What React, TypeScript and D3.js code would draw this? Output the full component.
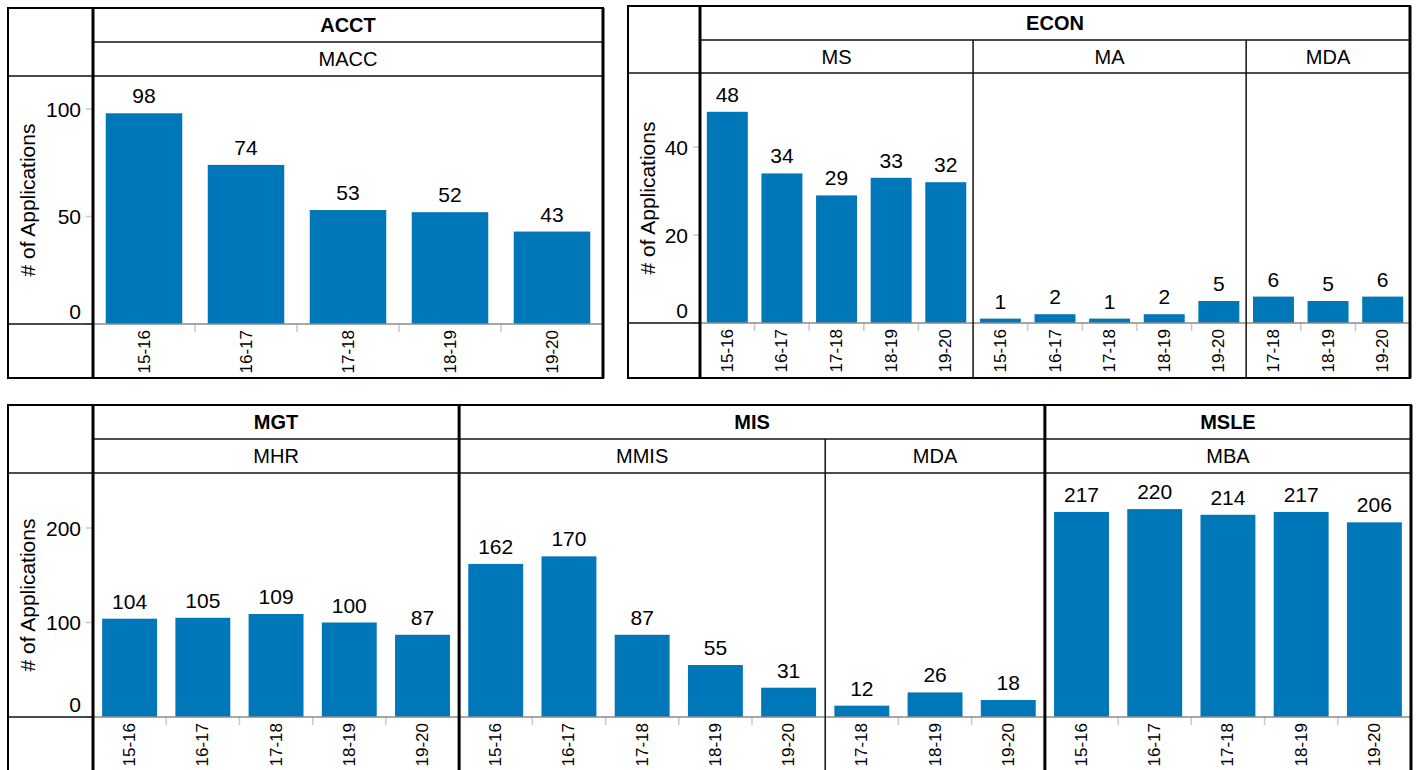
import React from "react";
import * as d3 from "d3";

// ---------- data ----------
const years = ["15-16", "16-17", "17-18", "18-19", "19-20"];
const mdaYears = ["17-18", "18-19", "19-20"];

const acctMacc = [98, 74, 53, 52, 43];
const econMs = [48, 34, 29, 33, 32];
const econMa = [1, 2, 1, 2, 5];
const econMda = [6, 5, 6];
const mgtMhr = [104, 105, 109, 100, 87];
const misMmis = [162, 170, 87, 55, 31];
const misMda = [12, 26, 18];
const msleMba = [217, 220, 214, 217, 206];

const ticksAcct = [0, 50, 100];
const ticksEcon = [0, 20, 40];
const ticksBottom = [0, 100, 200];

const axisTitle = "# of Applications";

type Sub = { name: string; cats: string[]; values: number[] };
type Group = { name: string; subs: Sub[] };

const acctGroups: Group[] = [
  { name: "ACCT", subs: [{ name: "MACC", cats: years, values: acctMacc }] },
];
const econGroups: Group[] = [
  {
    name: "ECON",
    subs: [
      { name: "MS", cats: years, values: econMs },
      { name: "MA", cats: years, values: econMa },
      { name: "MDA", cats: mdaYears, values: econMda },
    ],
  },
];
const bottomGroups: Group[] = [
  { name: "MGT", subs: [{ name: "MHR", cats: years, values: mgtMhr }] },
  {
    name: "MIS",
    subs: [
      { name: "MMIS", cats: years, values: misMmis },
      { name: "MDA", cats: mdaYears, values: misMda },
    ],
  },
  { name: "MSLE", subs: [{ name: "MBA", cats: years, values: msleMba }] },
];

const BAR = "#0077b8";
const FONT = "'Liberation Sans', Arial, sans-serif";

type Layout = {
  L: number; RH: number; R: number; T: number; H1: number; H2: number; base: number; B: number; yMax: number;
};

function Panel({ groups, ticks, lay }: { groups: Group[]; ticks: number[]; lay: Layout }) {
  const { L, RH, R, T, H1, H2, base, B, yMax } = lay;
  const keys: string[] = [];
  groups.forEach((g) => g.subs.forEach((s) => s.cats.forEach((c) => keys.push(`${g.name}|${s.name}|${c}`))));
  const x = d3.scaleBand<string>().domain(keys).range([RH, R]).paddingInner(0.25).paddingOuter(0.125);
  const y = d3.scaleLinear().domain([0, yMax]).range([base, H2]);
  const step = x.step();

  const bars: any[] = [];
  const labels: any[] = [];
  const xlabels: any[] = [];
  const tickMarks: any[] = [];
  const subLines: any[] = [];
  const groupLines: any[] = [];
  const headers: any[] = [];

  let idx = 0;
  groups.forEach((g, gi) => {
    const gStart = RH + idx * step;
    g.subs.forEach((s, si) => {
      const sStart = RH + idx * step;
      s.cats.forEach((c, ci) => {
        const k = `${g.name}|${s.name}|${c}`;
        const v = s.values[ci];
        const bx = x(k)!;
        const cx = bx + x.bandwidth() / 2;
        bars.push(<rect key={"b" + k} x={bx} y={y(v)} width={x.bandwidth()} height={base - y(v)} fill={BAR} />);
        labels.push(
          <text key={"l" + k} x={cx} y={y(v) - 10} textAnchor="middle" fontSize={21} fill="#000">
            {v}
          </text>
        );
        xlabels.push(
          <text key={"x" + k} transform={`translate(${cx},${base + 6}) rotate(-90)`} textAnchor="end" dominantBaseline="central" fontSize={17} fill="#000">
            {c}
          </text>
        );
        if (ci > 0) {
          const tx = RH + (idx + ci) * step;
          tickMarks.push(<line key={"t" + k} x1={tx} x2={tx} y1={base} y2={base + 8} stroke="#c8c8c8" strokeWidth={1.5} />);
        }
      });
      const sEnd = sStart + s.cats.length * step;
      idx += s.cats.length;
      headers.push(
        <text key={"sh" + g.name + s.name} x={(sStart + sEnd) / 2} y={(H1 + H2) / 2} textAnchor="middle" dominantBaseline="central" fontSize={20} fill="#000">
          {s.name}
        </text>
      );
      if (si > 0) {
        subLines.push(<line key={"sl" + g.name + s.name} x1={sStart} x2={sStart} y1={H1} y2={B} stroke="#111" strokeWidth={1.5} />);
      }
    });
    const gEnd = RH + idx * step;
    headers.push(
      <text key={"gh" + g.name} x={(gStart + gEnd) / 2} y={(T + H1) / 2} textAnchor="middle" dominantBaseline="central" fontSize={20} fontWeight="bold" fill="#000">
        {g.name}
      </text>
    );
    if (gi > 0) {
      groupLines.push(<line key={"gl" + g.name} x1={gStart} x2={gStart} y1={T} y2={B} stroke="#000" strokeWidth={3} />);
    }
  });

  return (
    <g fontFamily={FONT}>
      {bars}
      {labels}
      {xlabels}
      {tickMarks}
      {/* y axis */}
      {ticks.map((t) => (
        <g key={"yt" + t}>
          <line x1={RH - 7} x2={RH - 1} y1={y(t)} y2={y(t)} stroke="#c8c8c8" strokeWidth={1.5} />
          {t === 0 ? (
            <text x={RH - 12} y={base - 5} textAnchor="end" fontSize={21} fill="#000">
              {t}
            </text>
          ) : (
            <text x={RH - 12} y={y(t)} textAnchor="end" dominantBaseline="central" fontSize={21} fill="#000">
              {t}
            </text>
          )}
        </g>
      ))}
      <text transform={`translate(${L + 19},${(H2 + base) / 2}) rotate(-90)`} textAnchor="middle" dominantBaseline="central" fontSize={21} fill="#000">
        {axisTitle}
      </text>
      {headers}
      {/* grid lines */}
      <line x1={RH} x2={R} y1={H1} y2={H1} stroke="#111" strokeWidth={1.5} />
      <line x1={L} x2={R} y1={H2} y2={H2} stroke="#111" strokeWidth={1.5} />
      <line x1={L} x2={RH} y1={base} y2={base} stroke="#111" strokeWidth={1.5} />
      <line x1={RH} x2={R} y1={base} y2={base} stroke="#8a8a8a" strokeWidth={1.5} />
      {subLines}
      {groupLines}
      <line x1={RH} x2={RH} y1={T} y2={B} stroke="#000" strokeWidth={3} />
      <rect x={L} y={T} width={R - L} height={B - T} fill="none" stroke="#000" strokeWidth={2} />
      <line x1={R} x2={R} y1={T} y2={B} stroke="#000" strokeWidth={3} />
    </g>
  );
}

export default function App() {
  const topLeft: Layout = { L: 8, RH: 93, R: 603, T: 8, H1: 42, H2: 76, base: 324, B: 378, yMax: 248 / 2.15 };
  const topRight: Layout = { L: 628, RH: 700, R: 1410, T: 6, H1: 40, H2: 73, base: 323, B: 378, yMax: 250 / 4.4 };
  const bottom: Layout = { L: 8, RH: 93, R: 1411, T: 405, H1: 439, H2: 473, base: 717, B: 774, yMax: 244 / 0.945 };
  return (
    <svg width={1418} height={770} style={{ position: "absolute", left: 0, top: 0, background: "#fff" }}>
      <rect width={1418} height={770} fill="#fff" />
      <Panel groups={acctGroups} ticks={ticksAcct} lay={topLeft} />
      <Panel groups={econGroups} ticks={ticksEcon} lay={topRight} />
      <Panel groups={bottomGroups} ticks={ticksBottom} lay={bottom} />
    </svg>
  );
}
